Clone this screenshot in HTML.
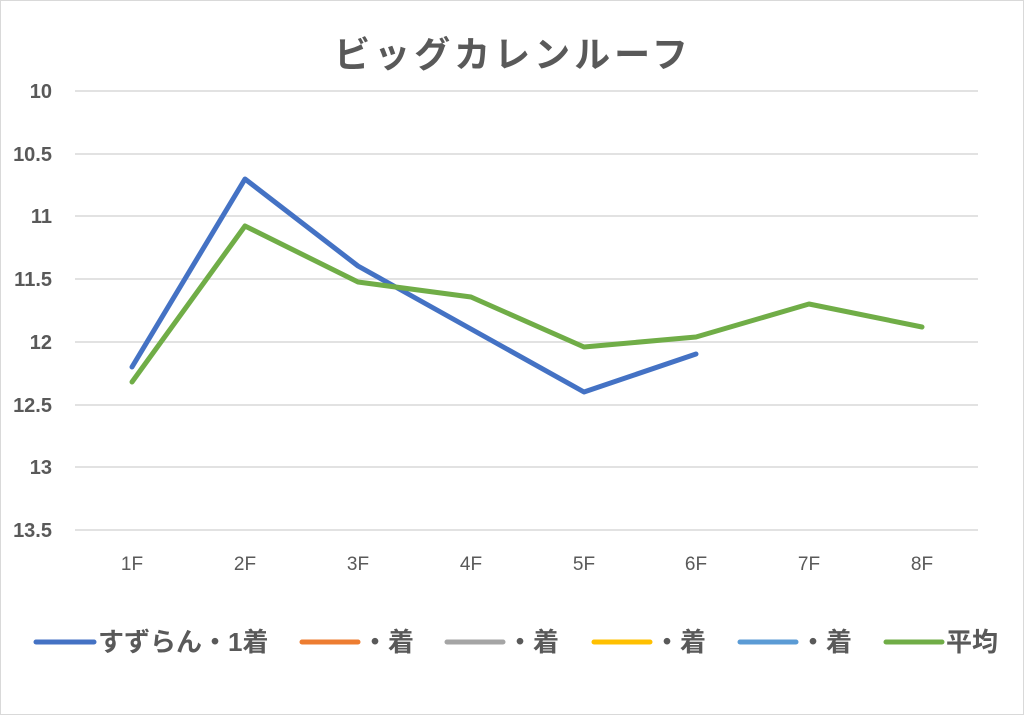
<!DOCTYPE html>
<html><head><meta charset="utf-8"><style>
body{margin:0;background:#fff;}
svg{display:block;font-family:"Liberation Sans","Noto Sans CJK JP",sans-serif;}
</style></head><body>
<svg width="1024" height="715" viewBox="0 0 1024 715">
<rect x="0.5" y="0.5" width="1023" height="714" fill="#fff" stroke="#d9d9d9"/>
<text x="513" y="67" text-anchor="middle" font-size="36" font-weight="bold" fill="#595959" font-family="'Noto Sans CJK JP',sans-serif" letter-spacing="4">ビッグカレンルーフ</text>
<g stroke="#d9d9d9" stroke-width="1.5">
<line x1="75" y1="91" x2="978" y2="91"/><line x1="75" y1="154" x2="978" y2="154"/>
<line x1="75" y1="216" x2="978" y2="216"/><line x1="75" y1="279" x2="978" y2="279"/>
<line x1="75" y1="342" x2="978" y2="342"/><line x1="75" y1="405" x2="978" y2="405"/>
<line x1="75" y1="467" x2="978" y2="467"/><line x1="75" y1="530" x2="978" y2="530"/>
</g>
<g font-size="20" font-weight="bold" fill="#595959" text-anchor="end">
<text x="52" y="98">10</text><text x="52" y="161">10.5</text><text x="52" y="223">11</text>
<text x="52" y="286">11.5</text><text x="52" y="349">12</text><text x="52" y="412">12.5</text>
<text x="52" y="474">13</text><text x="52" y="537">13.5</text>
</g>
<g font-size="19" fill="#595959" text-anchor="middle">
<text x="132" y="570">1F</text><text x="245" y="570">2F</text><text x="358" y="570">3F</text>
<text x="471" y="570">4F</text><text x="584" y="570">5F</text><text x="696" y="570">6F</text>
<text x="809" y="570">7F</text><text x="922" y="570">8F</text>
</g>
<polyline fill="none" stroke="#4472c4" stroke-width="5" stroke-linejoin="round" stroke-linecap="round" points="132,367 245,179 358,266 471,329 584,392 696,354"/>
<polyline fill="none" stroke="#70ad47" stroke-width="5" stroke-linejoin="round" stroke-linecap="round" points="132,382 245,226 358,282 471,297 584,347 696,337 809,304 922,327"/>
<g stroke-width="5" stroke-linecap="round">
<line x1="36" y1="642" x2="94" y2="642" stroke="#4472c4"/>
<line x1="302" y1="642" x2="358" y2="642" stroke="#ed7d31"/>
<line x1="447" y1="642" x2="503" y2="642" stroke="#a5a5a5"/>
<line x1="594" y1="642" x2="650" y2="642" stroke="#ffc000"/>
<line x1="740" y1="642" x2="796" y2="642" stroke="#5b9bd5"/>
<line x1="886" y1="642" x2="942" y2="642" stroke="#70ad47"/>
</g>
<g font-size="26" font-weight="bold" fill="#595959">
<text x="98" y="651">すずらん・1着</text>
<text x="362" y="651">・着</text>
<text x="507" y="651">・着</text>
<text x="654" y="651">・着</text>
<text x="800" y="651">・着</text>
<text x="946" y="651">平均</text>
</g>
</svg>
</body></html>
